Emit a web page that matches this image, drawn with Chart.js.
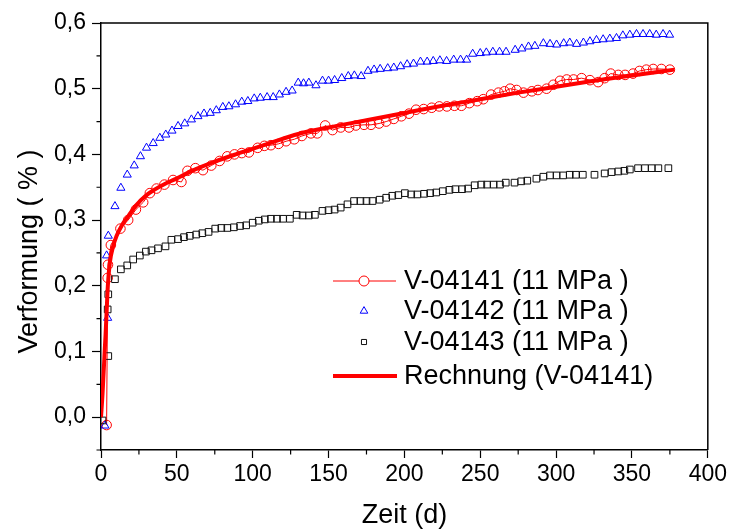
<!DOCTYPE html>
<html><head><meta charset="utf-8">
<script src="https://cdn.jsdelivr.net/npm/chart.js@4/dist/chart.umd.min.js"></script>
<style>html,body{margin:0;padding:0;background:#fff;}#wrap{width:730px;height:532px;}</style>
</head><body><div id="wrap"><canvas id="c" width="730" height="532"></canvas></div>
<script>
// ---- data ----
const seriesLabels = ["V-04141 (11 MPa )", "V-04142 (11 MPa )", "V-04143 (11 MPa )", "Rechnung (V-04141)"];
const xTitle = "Zeit (d)";
const yTitle = "Verformung ( % )";

const v41_x = [3.7,4.4,4.6,6.5,12.8,17.9,23.0,27.8,32.2,36.6,41.8,47.5,53.0,57.0,62.2,67.2,72.7,78.2,83.2,88.0,92.8,97.5,103.3,107.7,112.0,117.0,122.0,127.4,132.4,138.4,142.6,147.8,152.6,158.0,163.5,168.0,173.4,178.0,183.3,188.0,193.0,198.0,203.0,207.7,212.7,218.0,223.0,228.0,233.0,237.6,242.8,248.0,252.0,257.2,262.0,266.0,269.7,274.0,278.5,284.0,288.0,293.7,298.2,302.6,307.0,311.5,316.8,322.3,327.7,332.0,336.0,341.0,345.5,350.7,355.0,359.5,364.0,369.4,375.0];
const v41_y = [-0.012,0.212,0.232,0.262,0.287,0.300,0.316,0.327,0.341,0.348,0.354,0.361,0.358,0.375,0.379,0.376,0.383,0.390,0.397,0.400,0.402,0.403,0.410,0.413,0.414,0.416,0.420,0.423,0.428,0.432,0.432,0.444,0.437,0.441,0.441,0.444,0.445,0.445,0.447,0.450,0.454,0.458,0.462,0.468,0.469,0.471,0.473,0.473,0.474,0.474,0.478,0.481,0.484,0.491,0.494,0.496,0.500,0.498,0.494,0.496,0.498,0.500,0.506,0.512,0.514,0.514,0.516,0.513,0.510,0.516,0.523,0.521,0.521,0.523,0.527,0.529,0.530,0.530,0.529];

const v42_x = [2.6,4.4,3.7,4.8,9.2,13.1,17.3,21.9,26.0,30.0,34.4,38.8,42.7,46.8,50.8,55.2,59.6,63.9,67.9,72.0,76.0,80.3,84.3,88.7,92.8,96.8,101.0,105.0,109.5,113.5,117.6,122.0,126.0,130.0,133.5,137.0,141.7,146.0,150.0,154.0,158.7,163.0,167.0,171.5,176.0,180.0,184.0,189.0,193.0,197.5,201.8,206.0,210.6,215.0,219.0,223.4,227.8,232.5,237.0,241.0,245.0,250.0,254.0,258.3,262.7,267.0,273.0,277.4,281.8,286.0,291.6,296.0,300.3,305.0,309.0,313.5,318.0,322.3,326.6,331.0,335.4,339.8,344.0,348.6,353.0,357.3,361.7,366.0,370.5,374.8];
const v42_y = [-0.013,0.151,0.246,0.276,0.321,0.349,0.369,0.383,0.397,0.410,0.417,0.425,0.430,0.436,0.443,0.447,0.453,0.458,0.462,0.463,0.467,0.472,0.473,0.476,0.480,0.481,0.485,0.486,0.487,0.487,0.491,0.495,0.497,0.509,0.508,0.509,0.505,0.512,0.512,0.513,0.516,0.519,0.520,0.519,0.527,0.529,0.530,0.531,0.532,0.534,0.537,0.538,0.541,0.541,0.542,0.543,0.542,0.544,0.544,0.544,0.553,0.554,0.555,0.556,0.556,0.556,0.559,0.561,0.564,0.565,0.569,0.568,0.567,0.569,0.570,0.568,0.570,0.572,0.574,0.575,0.576,0.577,0.581,0.582,0.583,0.583,0.583,0.582,0.583,0.582];

const v43_x = [1.0,4.8,4.4,4.8,9.2,13.1,17.3,21.2,25.6,29.6,33.3,37.6,42.5,46.4,50.8,54.7,58.5,62.8,66.8,70.9,75.3,79.3,83.3,87.6,91.7,95.7,100.0,104.0,108.0,112.0,116.0,120.0,124.5,129.0,132.9,137.0,141.0,146.0,150.0,154.0,158.0,162.5,166.8,171.0,175.0,179.0,183.7,188.0,192.0,196.0,200.3,204.5,208.5,213.0,217.0,221.0,225.3,229.7,233.6,238.0,242.0,246.3,250.7,254.5,258.8,263.0,266.8,272.6,277.0,281.0,287.0,291.6,296.0,300.3,304.6,309.0,313.0,317.6,325.3,332.0,336.6,341.0,345.0,348.6,354.0,358.6,363.0,367.4,374.0];
const v43_y = [-0.005,0.093,0.164,0.187,0.210,0.225,0.231,0.240,0.246,0.252,0.254,0.257,0.260,0.270,0.271,0.274,0.276,0.278,0.280,0.282,0.287,0.288,0.288,0.289,0.291,0.292,0.296,0.299,0.301,0.302,0.302,0.302,0.302,0.308,0.307,0.307,0.308,0.314,0.315,0.316,0.319,0.324,0.329,0.329,0.329,0.329,0.331,0.334,0.337,0.338,0.341,0.339,0.339,0.340,0.341,0.342,0.344,0.346,0.347,0.347,0.348,0.353,0.354,0.354,0.354,0.354,0.357,0.357,0.359,0.360,0.363,0.366,0.368,0.368,0.368,0.369,0.369,0.369,0.369,0.371,0.373,0.374,0.375,0.377,0.379,0.379,0.379,0.379,0.379];

const fit_x = [0,1,1.5,2,2.6,3,3.7,4.5,5.9,8,10.3,14,18,23,28.9,35,42,48.6,60,75,90,110,130,150,175,200,225,250,275,300,325,350,378];
const fit_y = [0,0.035,0.058,0.080,0.108,0.125,0.160,0.200,0.236,0.260,0.276,0.293,0.306,0.322,0.336,0.346,0.355,0.362,0.375,0.389,0.401,0.416,0.431,0.441,0.452,0.463,0.474,0.484,0.494,0.503,0.512,0.520,0.529];

const xMajorTicks = [0,50,100,150,200,250,300,350,400];
const yMajorTicks = [0.0,0.1,0.2,0.3,0.4,0.5,0.6];
const xMinorTicks = [25,75,125,175,225,275,325,375];
const yMinorTicks = [-0.05,0.05,0.15,0.25,0.35,0.45,0.55];

function pts(xs, ys){ return xs.map((x,i)=>({x:x, y:ys[i]})); }

Chart.defaults.font.family = "'Liberation Sans', Arial, Helvetica, sans-serif";
Chart.defaults.color = '#000';

const framePlugin = {
  id: 'frame',
  afterDraw(chart){
    const ctx = chart.ctx, a = chart.chartArea;
    const xs = chart.scales.x, ys = chart.scales.y;
    ctx.save();
    ctx.strokeStyle = '#000';
    ctx.lineWidth = 1.5;
    ctx.beginPath();
    ctx.moveTo(a.left, a.top); ctx.lineTo(a.right, a.top); ctx.lineTo(a.right, a.bottom);
    ctx.stroke();
    ctx.lineWidth = 1.2;
    ctx.beginPath();
    xMinorTicks.forEach(v=>{ const p = xs.getPixelForValue(v); ctx.moveTo(p, a.bottom); ctx.lineTo(p, a.bottom+4.5); });
    yMinorTicks.forEach(v=>{ const p = ys.getPixelForValue(v); ctx.moveTo(a.left, p); ctx.lineTo(a.left-4.5, p); });
    ctx.stroke();
    // legend
    const rows = [
      {ds:0, y:281}, {ds:1, y:311}, {ds:2, y:342}, {ds:3, y:376}
    ];
    const sx0 = 333, sx1 = 396, sxc = 364, tx = 404;
    rows.forEach(r=>{
      const d = chart.data.datasets[r.ds];
      if (r.ds === 0){
        ctx.strokeStyle = d.borderColor; ctx.lineWidth = 1;
        ctx.beginPath(); ctx.moveTo(sx0, r.y); ctx.lineTo(sx1, r.y); ctx.stroke();
        ctx.fillStyle = '#fff';
        ctx.beginPath(); ctx.arc(sxc, r.y, 5, 0, Math.PI*2); ctx.fill();
      }
      if (r.ds === 3){
        ctx.strokeStyle = d.borderColor; ctx.lineWidth = 4;
        ctx.beginPath(); ctx.moveTo(sx0, r.y); ctx.lineTo(sx1+1, r.y); ctx.stroke();
      } else {
        ctx.strokeStyle = d.pointBorderColor; ctx.fillStyle = 'rgba(0,0,0,0)';
        Chart.helpers.drawPoint(ctx, {pointStyle: d.pointStyle, radius: r.ds===0?5:(r.ds===1?4.4:3.6), borderWidth: 1, rotation: 0}, sxc, r.y);
      }
      ctx.fillStyle = '#000';
      ctx.font = "27px 'Liberation Sans', Arial, sans-serif";
      ctx.textBaseline = 'middle'; ctx.textAlign = 'left';
      ctx.fillText(d.label, tx, r.y+1);
    });
    ctx.restore();
  }
};

new Chart(document.getElementById('c'), {
  type: 'scatter',
  data: {
    datasets: [
      { label: seriesLabels[0], data: pts(v41_x, v41_y), showLine: true, borderColor: '#ff0000', borderWidth: 1,
        pointStyle: 'circle', pointRadius: 4.8, pointBorderColor: '#ff0000', pointBackgroundColor: 'rgba(0,0,0,0)', pointBorderWidth: 1, order: 3 },
      { label: seriesLabels[1], data: pts(v42_x, v42_y), showLine: false, borderColor: '#0000ff',
        pointStyle: 'triangle', pointRadius: 4.7, pointBorderColor: '#0000ff', pointBackgroundColor: 'rgba(0,0,0,0)', pointBorderWidth: 1, order: 2 },
      { label: seriesLabels[2], data: pts(v43_x, v43_y), showLine: false, borderColor: '#000000',
        pointStyle: 'rect', pointRadius: 4.7, pointBorderColor: '#111', pointBackgroundColor: 'rgba(0,0,0,0)', pointBorderWidth: 1, order: 1 },
      { label: seriesLabels[3], data: pts(fit_x, fit_y), showLine: true, borderColor: '#ff0000', borderWidth: 4,
        pointRadius: 0, cubicInterpolationMode: 'monotone', order: 0 }
    ]
  },
  options: {
    responsive: false, animation: false, devicePixelRatio: 1,
    layout: { padding: { top: 23, right: 20, left: 0, bottom: 0 } },
    plugins: { legend: { display: false }, tooltip: { enabled: false } },
    scales: {
      x: {
        type: 'linear', min: 0, max: 400,
        afterFit(s){ s.height = 82; },
        afterBuildTicks(s){ s.ticks = xMajorTicks.map(v=>({value:v})); },
        ticks: { font: { size: 23 }, color: '#000', padding: 3, maxRotation: 0, callback: v => String(v) },
        grid: { drawOnChartArea: false, drawTicks: true, tickLength: 8, tickColor: '#000', tickWidth: 1.2 },
        border: { display: true, color: '#000', width: 1.5 },
        title: { display: true, text: xTitle, font: { size: 27 }, color: '#000', padding: { top: 0, bottom: 0 } }
      },
      y: {
        type: 'linear', min: -0.05, max: 0.6,
        afterFit(s){ s.width = 101; },
        afterBuildTicks(s){ s.ticks = yMajorTicks.map(v=>({value:v})); },
        ticks: { font: { size: 23 }, color: '#000', padding: 6, callback: v => Number(v).toFixed(1).replace('.', ',') },
        grid: { drawOnChartArea: false, drawTicks: true, tickLength: 9, tickColor: '#000', tickWidth: 1.2 },
        border: { display: true, color: '#000', width: 1.5 },
        title: { display: true, text: yTitle + '    ', font: { size: 27 }, color: '#000', padding: { top: 13, bottom: 0 } }
      }
    }
  },
  plugins: [framePlugin]
});
</script>
</body></html>
